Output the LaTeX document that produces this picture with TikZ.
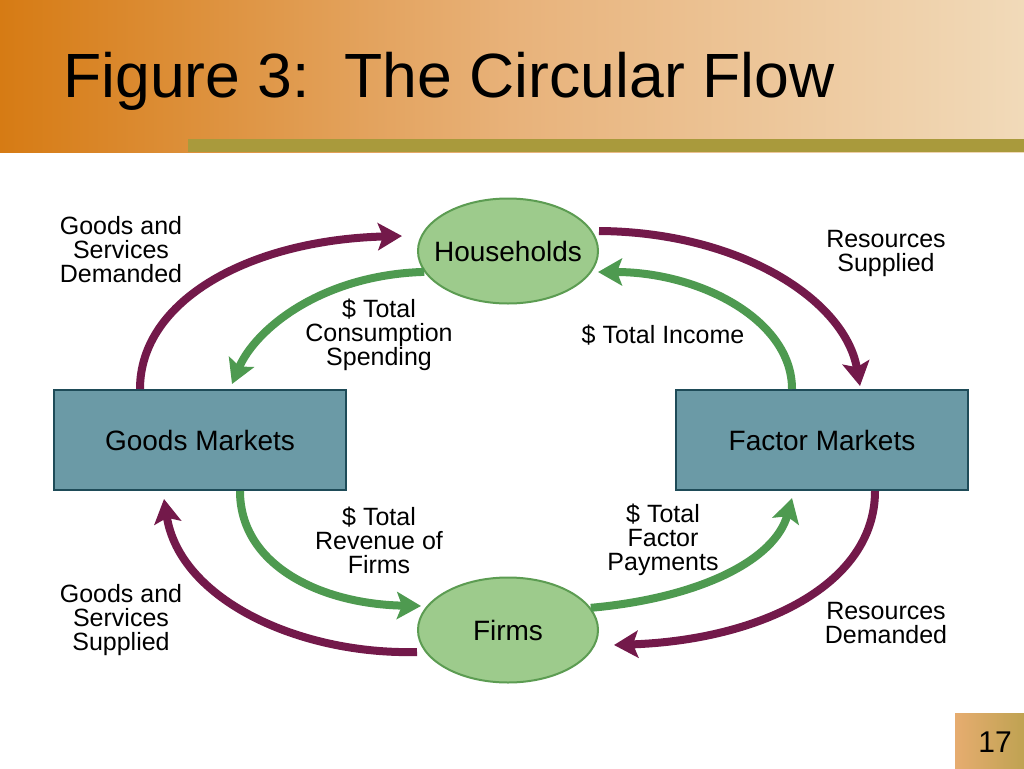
\documentclass[tikz,border=0pt]{standalone}
\usepackage{fontspec}
\setmainfont{Liberation Sans}
\usepackage{tikz}
\usetikzlibrary{positioning,arrows.meta,shapes.geometric}

\definecolor{maroonflow}{HTML}{73194A}
\definecolor{greenflow}{HTML}{4E9A50}
\definecolor{agentfill}{HTML}{9DCB8C}
\definecolor{agentline}{HTML}{5C9C52}
\definecolor{marketfill}{HTML}{6B9AA6}
\definecolor{marketline}{HTML}{1E4B58}
\definecolor{headleft}{HTML}{D67B14}
\definecolor{headmid}{HTML}{E8B27A}
\definecolor{headright}{HTML}{F1DAB9}
\definecolor{olivebar}{HTML}{A99A3C}

\begin{document}
\begin{tikzpicture}[x=1pt, y=-1pt,
    txt/.style={font=\fontsize{25}{24}\selectfont, align=center, inner sep=0pt},
    boxtxt/.style={font=\fontsize{28}{30}\selectfont, align=center, inner sep=0pt},
    agent/.style={ellipse, draw=agentline, fill=agentfill, line width=2pt,
        boxtxt, inner xsep=-30pt, minimum width=180pt, minimum height=105pt},
    market/.style={rectangle, draw=marketline, fill=marketfill, line width=2pt,
        minimum width=292pt, minimum height=100pt, boxtxt},
    realflow/.style={draw=maroonflow, line width=8pt,
        -{Stealth[length=24pt, width=27pt, inset=5pt]}},
    moneyflow/.style={draw=greenflow, line width=8pt,
        -{Stealth[length=24pt, width=27pt, inset=5pt]}}]

    % Sfondo e intestazione
    \useasboundingbox (0,0) rectangle (1024,768);
    \fill[white] (0,0) rectangle (1024,768);
    \shade[left color=headleft, right color=headright, middle color=headmid]
        (0,0) rectangle (1024,152);
    \fill[olivebar] (188,139) rectangle (1024,152);
    \node[anchor=base west, font=\fontsize{62.5}{64}\selectfont, inner sep=0pt]
        (title) at (63,97) {Figure 3:\ \ The Circular Flow};

    % Numero di pagina
    \shade[left color=headmid!90!headleft, right color=olivebar!65!headmid]
        (955,713) rectangle (1024,768);
    \node[font=\fontsize{30}{32}\selectfont, inner sep=0pt] (page) at (995,742) {17};

    % Nodi principali
    \node[agent] (hh) at (508,251) {Households};
    \node[agent] (firms) at (508,630) {Firms};
    \node[market] (gm) at (200,440) {Goods Markets};
    \node[market] (fm) at (822,440) {Factor Markets};

    % Estremi liberi delle frecce
    \coordinate (hhin) at (402,236);
    \coordinate (fmin) at (860,386);
    \coordinate (firmsin) at (614,645);
    \coordinate (gmin) at (164,499);
    \coordinate (gmtop) at (232,384);
    \coordinate (hhright) at (598,272);
    \coordinate (firmsleft) at (421,606);
    \coordinate (fmbot) at (792,498);

    % Flussi reali (beni e risorse)
    \draw[realflow] (gm.north -| 140,0) .. controls (140,300) and (250,240) .. (hhin);
    \draw[realflow] (hh.east |- 0,231) .. controls (740,232) and (845,300) .. (fmin);
    \draw[realflow] (fm.south -| 875,0) .. controls (875,585) and (760,640) .. (firmsin);
    \draw[realflow] (firms.west |- 0,652) .. controls (300,655) and (180,600) .. (gmin);

    % Flussi monetari
    \draw[moneyflow] (hh.-166) .. controls (320,275) and (255,330) .. (gmtop);
    \draw[moneyflow] (fm.north -| 792,0) .. controls (792,320) and (700,272) .. (hhright);
    \draw[moneyflow] (gm.south -| 240,0) .. controls (240,565) and (320,604) .. (firmsleft);
    \draw[moneyflow] (firms.15) .. controls (700,598) and (775,560) .. (fmbot);

    % Etichette
    \node[txt] (gsd) at (121,250) {Goods and\\Services\\Demanded};
    \node[txt] (rs) at (886,253) {Resources\\Supplied};
    \node[txt] (tcs) at (379,335) {\$ Total\\Consumption\\Spending};
    \node[txt] (ti) at (663,335) {\$ Total Income};
    \node[txt] (trf) at (379,540) {\$ Total\\Revenue of\\Firms};
    \node[txt] (tfp) at (663,540) {\$ Total\\Factor\\Payments};
    \node[txt] (gss) at (121,620) {Goods and\\Services\\Supplied};
    \node[txt] (rd) at (886,623) {Resources\\Demanded};

\end{tikzpicture}
\end{document}
